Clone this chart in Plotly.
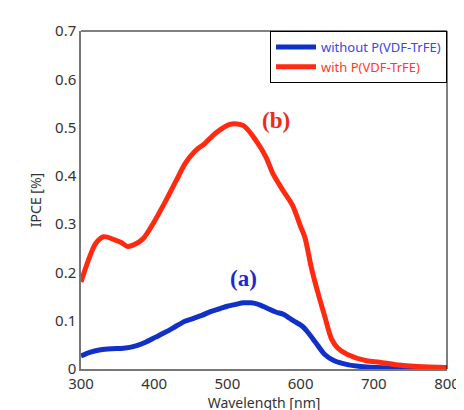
import plotly.graph_objects as go

wl_red = [300, 310, 320, 331, 345, 355, 363, 372, 385, 400, 415, 430, 442, 455, 469, 485, 504, 522, 540, 553, 562, 575, 589, 600, 606, 615, 624, 633, 642, 651, 664, 690, 708, 730, 760, 797, 800]
ipce_red = [0.18, 0.225, 0.26, 0.274, 0.268, 0.262, 0.254, 0.257, 0.27, 0.305, 0.346, 0.39, 0.425, 0.45, 0.467, 0.49, 0.507, 0.504, 0.471, 0.438, 0.405, 0.372, 0.339, 0.295, 0.272, 0.208, 0.156, 0.109, 0.063, 0.043, 0.03, 0.017, 0.014, 0.009, 0.005, 0.003, 0.003]

wl_blue = [300, 313, 327, 343, 358, 375, 389, 402, 415, 428, 442, 452, 465, 477, 490, 500, 512, 522, 532, 540, 553, 566, 577, 590, 602, 611, 620, 633, 646, 664, 690, 730, 800]
ipce_blue = [0.027, 0.035, 0.04, 0.042, 0.043, 0.048, 0.056, 0.066, 0.076, 0.087, 0.099, 0.104, 0.111, 0.119, 0.125, 0.13, 0.134, 0.137, 0.137, 0.135, 0.127, 0.118, 0.113, 0.1, 0.089, 0.074, 0.056, 0.03, 0.017, 0.009, 0.004, 0.002, 0.001]

name_blue = "without P(VDF-TrFE)"
name_red = "with P(VDF-TrFE)"
color_blue = "#1030c8"
color_red = "#ff2a10"

fig = go.Figure()
fig.add_trace(go.Scatter(x=wl_blue, y=ipce_blue, mode="lines",
                         name=f"<span style='color:#3848e0'>{name_blue}</span>",
                         line=dict(color=color_blue, width=5, shape="spline", smoothing=0.8)))
fig.add_trace(go.Scatter(x=wl_red, y=ipce_red, mode="lines",
                         name=f"<span style='color:#ff3a28'>{name_red}</span>",
                         line=dict(color=color_red, width=5, shape="spline", smoothing=0.8)))

fig.add_annotation(x=566, y=0.515, text="<b>(b)</b>", showarrow=False,
                   font=dict(family="Liberation Serif", size=23, color="#ee2a18"))
fig.add_annotation(x=522, y=0.187, text="<b>(a)</b>", showarrow=False,
                   font=dict(family="Liberation Serif", size=23, color="#1a2ad0"))

# top/right frame lines in black
fig.add_shape(type="line", xref="paper", yref="paper", x0=0, x1=1, y0=1, y1=1,
              line=dict(color="black", width=1))
fig.add_shape(type="line", xref="paper", yref="paper", x0=1, x1=1, y0=0, y1=1,
              line=dict(color="black", width=1))

fig.update_layout(
    width=464, height=410,
    margin=dict(l=73, r=15, t=17, b=37),
    paper_bgcolor="white", plot_bgcolor="white",
    font=dict(family="Noto Sans", size=15, color="#333333"),
    showlegend=True,
    legend=dict(x=1, y=1, xanchor="right", yanchor="top",
                bordercolor="black", borderwidth=1, bgcolor="white",
                font=dict(size=13), tracegroupgap=0, itemwidth=40),
    xaxis=dict(range=[300, 800], tickvals=[300, 400, 500, 600, 700, 800],
               showgrid=False, zeroline=False, showline=True, linecolor="#777777",
               linewidth=1.5, ticks="", tickfont=dict(size=15, color="#333333"),
               title=dict(text="Wavelength [nm]", font=dict(size=14, color="#333333"), standoff=3)),
    yaxis=dict(range=[0, 0.7], tickvals=[0, 0.1, 0.2, 0.3, 0.4, 0.5, 0.6, 0.7],
               ticktext=["0", "0.1", "0.2", "0.3", "0.4", "0.5", "0.6", "0.7"],
               showgrid=False, zeroline=False, showline=True, linecolor="#777777",
               linewidth=1.5, ticks="", tickfont=dict(size=15, color="#333333"),
               title=dict(text="IPCE [%]", font=dict(size=14, color="#333333"), standoff=10)),
)

fig.write_html("out.html")
